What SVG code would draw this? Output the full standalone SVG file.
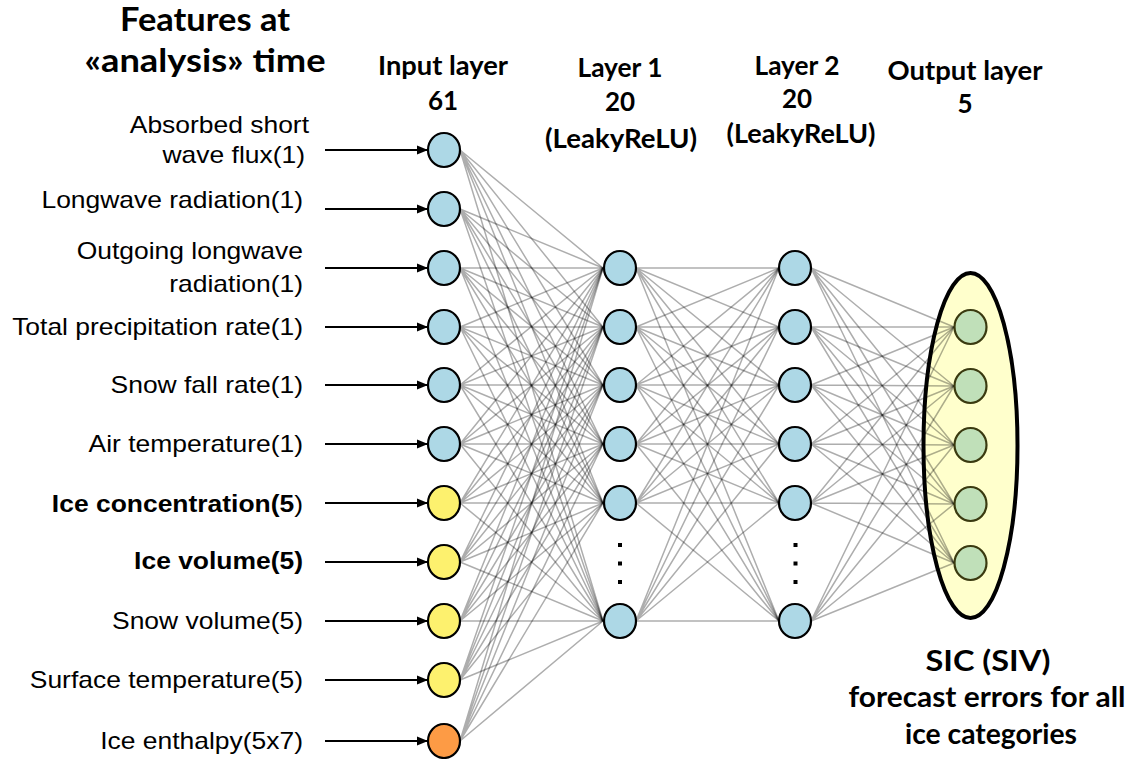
<svg xmlns="http://www.w3.org/2000/svg" width="1128" height="759" viewBox="0 0 1128 759">
  <defs>
    <marker id="arr" markerUnits="userSpaceOnUse" markerWidth="12" markerHeight="10" refX="11" refY="5" orient="auto">
      <path d="M0 0.5L11 5L0 9.5Z" fill="#000"/>
    </marker>
    <style>
      .lbl { font-family: "Liberation Sans", Arial, sans-serif; font-size: 23px; fill: #000; text-anchor: end; }
      .b { font-weight: bold; }
      .hdr { font-family: Lato, "Open Sans", sans-serif; font-weight: bold; font-size: 26px; fill: #000; text-anchor: middle; }
      .title { font-size: 33px; }
      .big { font-size: 28px; }
      .edge { fill: none; stroke: #000; stroke-opacity: 0.32; stroke-width: 1.5; }
      .feed { stroke: #000; stroke-width: 2; marker-end: url(#arr); }
      .n { stroke: #000; stroke-width: 2.2; }
      .blue { fill: #add8e6; }
      .yel { fill: #fdf16e; }
      .org { fill: #fd9b45; }
      .out { fill: #c0e0b9; stroke: #3a3a10; stroke-width: 2.2; }
      .dot { fill: #000; }
    </style>
  </defs>
  <rect width="1128" height="759" fill="#fff"/>

  <!-- output group frame -->
  <g id="output-frame">
    <ellipse cx="970.5" cy="445.5" rx="47" ry="172.5" fill="#ffffcc" stroke="#000" stroke-width="4"/>
  </g>

  <!-- headers -->
  <g id="headers">
    <text class="hdr title" x="205" y="31" textLength="170" lengthAdjust="spacingAndGlyphs">Features at</text>
    <text class="hdr title" x="205" y="72" textLength="241" lengthAdjust="spacingAndGlyphs">«analysis» time</text>
    <text class="hdr" x="443" y="75" textLength="130" lengthAdjust="spacingAndGlyphs">Input layer</text>
    <text class="hdr" x="443" y="110">61</text>
    <text class="hdr" x="620" y="77" textLength="85" lengthAdjust="spacingAndGlyphs">Layer 1</text>
    <text class="hdr" x="620" y="111">20</text>
    <text class="hdr" x="621" y="148" textLength="152" lengthAdjust="spacingAndGlyphs">(LeakyReLU)</text>
    <text class="hdr" x="797" y="75" textLength="85" lengthAdjust="spacingAndGlyphs">Layer 2</text>
    <text class="hdr" x="797" y="108">20</text>
    <text class="hdr" x="801" y="143" textLength="149" lengthAdjust="spacingAndGlyphs">(LeakyReLU)</text>
    <text class="hdr" x="965" y="80" textLength="155" lengthAdjust="spacingAndGlyphs">Output layer</text>
    <text class="hdr" x="965" y="113">5</text>
    <text class="hdr big" x="988" y="671" textLength="125" lengthAdjust="spacingAndGlyphs">SIC (SIV)</text>
    <text class="hdr big" x="987" y="707" textLength="277" lengthAdjust="spacingAndGlyphs">forecast errors for all</text>
    <text class="hdr big" x="991" y="744" textLength="172" lengthAdjust="spacingAndGlyphs">ice categories</text>
  </g>

  <!-- feature labels -->
  <g id="features">
    <text class="lbl" transform="translate(309 133) scale(1.15 1)">Absorbed short</text>
    <text class="lbl" transform="translate(305 163) scale(1.15 1)">wave flux(1)</text>
    <text class="lbl" transform="translate(303 208) scale(1.15 1)">Longwave radiation(1)</text>
    <text class="lbl" transform="translate(303 259) scale(1.15 1)">Outgoing longwave</text>
    <text class="lbl" transform="translate(303 292) scale(1.15 1)">radiation(1)</text>
    <text class="lbl" transform="translate(303 335) scale(1.15 1)">Total precipitation rate(1)</text>
    <text class="lbl" transform="translate(303 393) scale(1.15 1)">Snow fall rate(1)</text>
    <text class="lbl" transform="translate(303 452) scale(1.15 1)">Air temperature(1)</text>
    <text class="lbl" transform="translate(303 512) scale(1.15 1)"><tspan class="b">Ice concentration(5</tspan>)</text>
    <text class="lbl b" transform="translate(303 569) scale(1.15 1)">Ice volume(5)</text>
    <text class="lbl" transform="translate(303 629) scale(1.15 1)">Snow volume(5)</text>
    <text class="lbl" transform="translate(303 688) scale(1.15 1)">Surface temperature(5)</text>
    <text class="lbl" transform="translate(303 749) scale(1.15 1)">Ice enthalpy(5x7)</text>
  </g>

  <!-- connectors -->
  <g id="connectors">
    <!-- feature arrows into the input layer -->
    <g>
      <line class="feed" x1="325" y1="150" x2="428" y2="150"/>
      <line class="feed" x1="325" y1="209" x2="428" y2="209"/>
      <line class="feed" x1="325" y1="268" x2="428" y2="268"/>
      <line class="feed" x1="325" y1="327" x2="428" y2="327"/>
      <line class="feed" x1="325" y1="385" x2="428" y2="385"/>
      <line class="feed" x1="325" y1="444" x2="428" y2="444"/>
      <line class="feed" x1="325" y1="503" x2="428" y2="503"/>
      <line class="feed" x1="325" y1="562" x2="428" y2="562"/>
      <line class="feed" x1="325" y1="621" x2="428" y2="621"/>
      <line class="feed" x1="325" y1="680" x2="428" y2="680"/>
      <line class="feed" x1="325" y1="741" x2="428" y2="741"/>
    </g>
    <!-- input layer -> layer 1 -->
    <path class="edge" d="M460 150L603 268M460 150L603 327M460 150L603 385M460 150L603 444M460 150L603 503M460 150L603 621"/>
    <path class="edge" d="M460 209L603 268M460 209L603 327M460 209L603 385M460 209L603 444M460 209L603 503M460 209L603 621"/>
    <path class="edge" d="M460 268L603 268M460 268L603 327M460 268L603 385M460 268L603 444M460 268L603 503M460 268L603 621"/>
    <path class="edge" d="M460 327L603 268M460 327L603 327M460 327L603 385M460 327L603 444M460 327L603 503M460 327L603 621"/>
    <path class="edge" d="M460 385L603 268M460 385L603 327M460 385L603 385M460 385L603 444M460 385L603 503M460 385L603 621"/>
    <path class="edge" d="M460 444L603 268M460 444L603 327M460 444L603 385M460 444L603 444M460 444L603 503M460 444L603 621"/>
    <path class="edge" d="M460 503L603 268M460 503L603 327M460 503L603 385M460 503L603 444M460 503L603 503M460 503L603 621"/>
    <path class="edge" d="M460 562L603 268M460 562L603 327M460 562L603 385M460 562L603 444M460 562L603 503M460 562L603 621"/>
    <path class="edge" d="M460 621L603 268M460 621L603 327M460 621L603 385M460 621L603 444M460 621L603 503M460 621L603 621"/>
    <path class="edge" d="M460 680L603 268M460 680L603 327M460 680L603 385M460 680L603 444M460 680L603 503M460 680L603 621"/>
    <path class="edge" d="M460 741L603 268M460 741L603 327M460 741L603 385M460 741L603 444M460 741L603 503M460 741L603 621"/>
    <!-- layer 1 -> layer 2 -->
    <path class="edge" d="M636 268L779 268M636 268L779 327M636 268L779 385M636 268L779 444M636 268L779 503M636 268L779 621"/>
    <path class="edge" d="M636 327L779 268M636 327L779 327M636 327L779 385M636 327L779 444M636 327L779 503M636 327L779 621"/>
    <path class="edge" d="M636 385L779 268M636 385L779 327M636 385L779 385M636 385L779 444M636 385L779 503M636 385L779 621"/>
    <path class="edge" d="M636 444L779 268M636 444L779 327M636 444L779 385M636 444L779 444M636 444L779 503M636 444L779 621"/>
    <path class="edge" d="M636 503L779 268M636 503L779 327M636 503L779 385M636 503L779 444M636 503L779 503M636 503L779 621"/>
    <path class="edge" d="M636 621L779 268M636 621L779 327M636 621L779 385M636 621L779 444M636 621L779 503M636 621L779 621"/>
    <!-- layer 2 -> output layer -->
    <path class="edge" d="M811 268L954 327M811 268L954 386M811 268L954 445M811 268L954 504M811 268L954 563"/>
    <path class="edge" d="M811 327L954 327M811 327L954 386M811 327L954 445M811 327L954 504M811 327L954 563"/>
    <path class="edge" d="M811 385L954 327M811 385L954 386M811 385L954 445M811 385L954 504M811 385L954 563"/>
    <path class="edge" d="M811 444L954 327M811 444L954 386M811 444L954 445M811 444L954 504M811 444L954 563"/>
    <path class="edge" d="M811 503L954 327M811 503L954 386M811 503L954 445M811 503L954 504M811 503L954 563"/>
    <path class="edge" d="M811 621L954 327M811 621L954 386M811 621L954 445M811 621L954 504M811 621L954 563"/>
  </g>

  <!-- input layer -->
  <g id="input-layer">
    <ellipse class="n blue" cx="444" cy="150" rx="16" ry="17"/>
    <ellipse class="n blue" cx="444" cy="209" rx="16" ry="17"/>
    <ellipse class="n blue" cx="444" cy="268" rx="16" ry="17"/>
    <ellipse class="n blue" cx="444" cy="327" rx="16" ry="17"/>
    <ellipse class="n blue" cx="444" cy="385" rx="16" ry="17"/>
    <ellipse class="n blue" cx="444" cy="444" rx="16" ry="17"/>
    <ellipse class="n yel" cx="444" cy="503" rx="16" ry="17"/>
    <ellipse class="n yel" cx="444" cy="562" rx="16" ry="17"/>
    <ellipse class="n yel" cx="444" cy="621" rx="16" ry="17"/>
    <ellipse class="n yel" cx="444" cy="680" rx="16" ry="17"/>
    <ellipse class="n org" cx="444" cy="741" rx="16" ry="17"/>
  </g>

  <!-- hidden layer 1 -->
  <g id="layer-1">
    <ellipse class="n blue" cx="620" cy="268" rx="16" ry="17"/>
    <ellipse class="n blue" cx="620" cy="327" rx="16" ry="17"/>
    <ellipse class="n blue" cx="620" cy="385" rx="16" ry="17"/>
    <ellipse class="n blue" cx="620" cy="444" rx="16" ry="17"/>
    <ellipse class="n blue" cx="620" cy="503" rx="16" ry="17"/>
    <ellipse class="n blue" cx="620" cy="621" rx="16" ry="17"/>
    <rect class="dot" x="618" y="543" width="4" height="4"/>
    <rect class="dot" x="618" y="561.5" width="4" height="4"/>
    <rect class="dot" x="618" y="580" width="4" height="4"/>
  </g>

  <!-- hidden layer 2 -->
  <g id="layer-2">
    <ellipse class="n blue" cx="795" cy="268" rx="16" ry="17"/>
    <ellipse class="n blue" cx="795" cy="327" rx="16" ry="17"/>
    <ellipse class="n blue" cx="795" cy="385" rx="16" ry="17"/>
    <ellipse class="n blue" cx="795" cy="444" rx="16" ry="17"/>
    <ellipse class="n blue" cx="795" cy="503" rx="16" ry="17"/>
    <ellipse class="n blue" cx="795" cy="621" rx="16" ry="17"/>
    <rect class="dot" x="793.5" y="543" width="4" height="4"/>
    <rect class="dot" x="793.5" y="561.5" width="4" height="4"/>
    <rect class="dot" x="793.5" y="580" width="4" height="4"/>
  </g>

  <!-- output layer -->
  <g id="output-layer">
    <ellipse class="out" cx="970.5" cy="327" rx="16" ry="17"/>
    <ellipse class="out" cx="970.5" cy="386" rx="16" ry="17"/>
    <ellipse class="out" cx="970.5" cy="445" rx="16" ry="17"/>
    <ellipse class="out" cx="970.5" cy="504" rx="16" ry="17"/>
    <ellipse class="out" cx="970.5" cy="563" rx="16" ry="17"/>
  </g>
</svg>
